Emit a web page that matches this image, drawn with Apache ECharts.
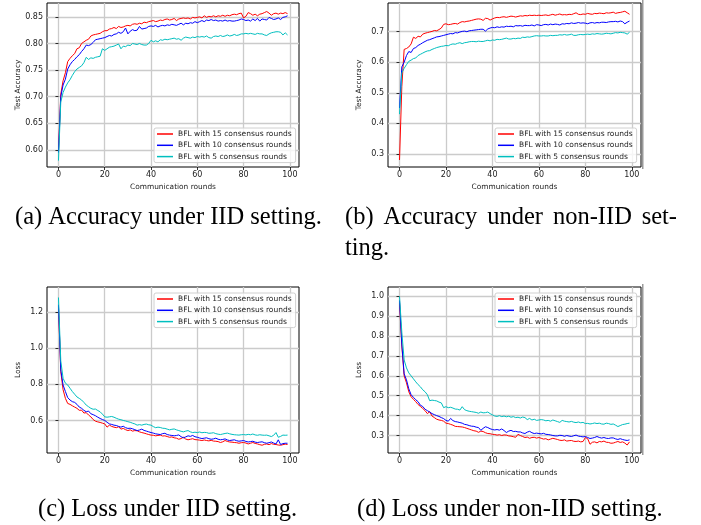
<!DOCTYPE html>
<html>
<head>
<meta charset="utf-8">
<script src="https://cdn.jsdelivr.net/npm/echarts@6/dist/echarts.min.js"></script>
<style>
  html, body { margin: 0; padding: 0; background: #fff; }
  #chart { width: 701px; height: 525px; }
</style>
</head>
<body>
<div id="chart"></div>
<script>
// communication rounds 0..99 (x positions)
const rounds = Array.from({length: 100}, (_, i) => i);
const seriesNames = ['BFL with 15 consensus rounds', 'BFL with 10 consensus rounds', 'BFL with 5 consensus rounds'];
const lineColors = ['#ff0000', '#0000ff', '#00bfbf'];

// (a) accuracy, IID
const accIid15 = [0.597,0.705,0.730,0.745,0.766,0.772,0.777,0.781,0.790,0.792,0.800,0.803,0.806,0.808,0.814,0.816,0.817,0.818,0.819,0.822,
  0.824,0.824,0.827,0.828,0.830,0.828,0.832,0.830,0.831,0.833,0.834,0.833,0.836,0.837,0.836,0.838,0.837,0.840,0.839,0.841,
  0.842,0.843,0.841,0.842,0.844,0.843,0.845,0.846,0.844,0.845,0.847,0.843,0.846,0.847,0.848,0.847,0.848,0.846,0.849,0.848,
  0.849,0.850,0.848,0.852,0.849,0.851,0.850,0.852,0.850,0.852,0.851,0.853,0.851,0.853,0.852,0.854,0.855,0.854,0.856,0.857,
  0.848,0.851,0.858,0.856,0.853,0.855,0.852,0.855,0.856,0.858,0.860,0.857,0.853,0.856,0.857,0.855,0.857,0.856,0.858,0.856];
const accIid10 = [0.595,0.700,0.722,0.733,0.752,0.760,0.766,0.770,0.775,0.779,0.785,0.790,0.797,0.796,0.798,0.802,0.807,0.808,0.809,0.810,
  0.811,0.813,0.815,0.814,0.817,0.818,0.821,0.819,0.822,0.829,0.818,0.823,0.826,0.824,0.825,0.832,0.827,0.828,0.829,0.832,
  0.833,0.832,0.834,0.831,0.833,0.834,0.833,0.835,0.834,0.836,0.835,0.834,0.836,0.838,0.835,0.838,0.837,0.839,0.838,0.841,
  0.839,0.841,0.843,0.841,0.844,0.843,0.845,0.843,0.844,0.842,0.843,0.842,0.844,0.842,0.843,0.842,0.842,0.843,0.844,0.846,
  0.845,0.843,0.844,0.842,0.846,0.843,0.847,0.842,0.846,0.845,0.844,0.849,0.847,0.845,0.846,0.848,0.845,0.849,0.850,0.852];
const accIid5 = [0.580,0.690,0.708,0.718,0.726,0.732,0.740,0.747,0.752,0.755,0.758,0.764,0.774,0.770,0.773,0.772,0.774,0.775,0.776,0.790,
  0.787,0.790,0.793,0.794,0.795,0.797,0.799,0.790,0.795,0.794,0.797,0.796,0.800,0.799,0.798,0.800,0.798,0.797,0.797,0.800,
  0.806,0.803,0.805,0.803,0.807,0.806,0.808,0.807,0.808,0.809,0.810,0.808,0.809,0.806,0.810,0.812,0.811,0.810,0.812,0.811,
  0.813,0.812,0.813,0.812,0.814,0.811,0.810,0.813,0.814,0.813,0.815,0.813,0.814,0.816,0.814,0.815,0.817,0.815,0.816,0.818,
  0.818,0.819,0.818,0.819,0.818,0.817,0.819,0.818,0.818,0.816,0.815,0.818,0.820,0.821,0.822,0.822,0.821,0.816,0.820,0.816];

// (b) accuracy, non-IID
const accNon15 = [0.280,0.520,0.642,0.645,0.650,0.660,0.682,0.678,0.685,0.683,0.692,0.695,0.697,0.699,0.701,0.704,0.703,0.707,0.712,0.724,
  0.726,0.723,0.724,0.726,0.727,0.725,0.730,0.733,0.732,0.734,0.735,0.737,0.739,0.741,0.742,0.741,0.737,0.744,0.743,0.738,
  0.742,0.745,0.747,0.746,0.748,0.749,0.747,0.749,0.751,0.750,0.748,0.750,0.752,0.751,0.753,0.752,0.754,0.753,0.754,0.753,
  0.754,0.753,0.754,0.755,0.753,0.755,0.757,0.754,0.756,0.758,0.755,0.756,0.755,0.757,0.756,0.759,0.762,0.757,0.756,0.758,
  0.757,0.760,0.758,0.757,0.760,0.759,0.761,0.760,0.759,0.762,0.761,0.762,0.764,0.760,0.762,0.763,0.765,0.767,0.762,0.757];
const accNon10 = [0.450,0.585,0.600,0.622,0.635,0.632,0.645,0.648,0.655,0.659,0.664,0.668,0.672,0.674,0.677,0.680,0.683,0.684,0.686,0.688,
  0.690,0.692,0.694,0.693,0.697,0.696,0.699,0.701,0.702,0.700,0.703,0.704,0.705,0.706,0.707,0.708,0.708,0.702,0.709,0.712,
  0.714,0.713,0.716,0.714,0.716,0.715,0.718,0.717,0.718,0.716,0.720,0.719,0.720,0.718,0.721,0.720,0.720,0.722,0.719,0.723,
  0.722,0.720,0.723,0.724,0.722,0.725,0.723,0.725,0.724,0.722,0.726,0.725,0.727,0.726,0.729,0.727,0.728,0.730,0.728,0.729,
  0.728,0.726,0.729,0.730,0.728,0.730,0.729,0.731,0.731,0.730,0.732,0.733,0.733,0.734,0.732,0.735,0.733,0.726,0.731,0.735];
const accNon5 = [0.430,0.565,0.580,0.592,0.603,0.607,0.612,0.614,0.622,0.626,0.630,0.634,0.637,0.638,0.642,0.645,0.648,0.650,0.652,0.653,
  0.655,0.654,0.658,0.660,0.659,0.662,0.664,0.661,0.664,0.665,0.667,0.668,0.668,0.667,0.669,0.668,0.668,0.670,0.672,0.670,
  0.673,0.672,0.675,0.674,0.675,0.677,0.679,0.676,0.676,0.678,0.677,0.679,0.678,0.682,0.681,0.683,0.682,0.684,0.686,0.687,
  0.686,0.686,0.687,0.686,0.686,0.688,0.687,0.688,0.688,0.690,0.689,0.691,0.689,0.690,0.692,0.688,0.688,0.690,0.691,0.690,
  0.691,0.692,0.691,0.693,0.692,0.694,0.693,0.692,0.693,0.695,0.694,0.693,0.695,0.697,0.696,0.698,0.697,0.696,0.692,0.698];

// (c) loss, IID
const lossIid15 = [1.230,0.870,0.770,0.722,0.694,0.689,0.681,0.674,0.667,0.656,0.657,0.641,0.643,0.630,0.620,0.605,0.596,0.592,0.589,0.585,
  0.581,0.563,0.574,0.567,0.563,0.560,0.565,0.552,0.556,0.549,0.544,0.548,0.541,0.544,0.543,0.537,0.533,0.530,0.526,0.522,
  0.519,0.518,0.515,0.517,0.519,0.514,0.515,0.511,0.507,0.509,0.504,0.502,0.496,0.500,0.507,0.497,0.493,0.496,0.499,0.494,
  0.493,0.491,0.489,0.492,0.489,0.487,0.490,0.486,0.485,0.483,0.478,0.482,0.489,0.484,0.481,0.480,0.478,0.477,0.474,0.477,
  0.478,0.475,0.470,0.474,0.478,0.473,0.470,0.466,0.463,0.468,0.470,0.466,0.472,0.468,0.467,0.464,0.463,0.466,0.469,0.467];
const lossIid10 = [1.240,0.880,0.796,0.760,0.726,0.713,0.704,0.700,0.689,0.674,0.667,0.656,0.648,0.652,0.637,0.632,0.626,0.618,0.611,0.605,
  0.600,0.590,0.581,0.578,0.574,0.572,0.567,0.563,0.568,0.560,0.556,0.557,0.554,0.549,0.544,0.547,0.552,0.545,0.541,0.537,
  0.533,0.530,0.526,0.524,0.522,0.527,0.529,0.522,0.519,0.517,0.515,0.517,0.520,0.510,0.504,0.509,0.515,0.512,0.517,0.510,
  0.507,0.503,0.500,0.502,0.504,0.499,0.496,0.498,0.502,0.496,0.493,0.495,0.498,0.492,0.489,0.491,0.493,0.488,0.485,0.487,
  0.489,0.484,0.481,0.483,0.485,0.480,0.478,0.480,0.482,0.477,0.474,0.477,0.481,0.475,0.470,0.493,0.467,0.472,0.474,0.474];
const lossIid5 = [1.280,0.930,0.833,0.806,0.796,0.778,0.760,0.745,0.730,0.722,0.713,0.700,0.685,0.676,0.667,0.662,0.663,0.655,0.648,0.635,
  0.620,0.618,0.620,0.622,0.618,0.612,0.607,0.604,0.600,0.597,0.593,0.590,0.585,0.581,0.574,0.577,0.574,0.578,0.580,0.576,
  0.574,0.566,0.560,0.563,0.561,0.557,0.556,0.552,0.548,0.551,0.553,0.548,0.544,0.540,0.537,0.541,0.544,0.537,0.533,0.535,
  0.533,0.536,0.532,0.534,0.533,0.529,0.530,0.532,0.527,0.524,0.522,0.525,0.528,0.530,0.526,0.523,0.521,0.520,0.519,0.521,
  0.522,0.520,0.523,0.521,0.525,0.520,0.518,0.521,0.519,0.518,0.519,0.515,0.511,0.518,0.533,0.507,0.512,0.519,0.518,0.519];

// (d) loss, non-IID
const lossNon15 = [0.970,0.750,0.600,0.565,0.520,0.495,0.482,0.470,0.456,0.446,0.436,0.425,0.410,0.420,0.398,0.390,0.382,0.378,0.376,0.372,
  0.362,0.360,0.356,0.352,0.346,0.345,0.344,0.343,0.340,0.336,0.332,0.328,0.324,0.322,0.316,0.322,0.320,0.314,0.310,0.309,
  0.306,0.305,0.302,0.304,0.300,0.303,0.302,0.298,0.297,0.294,0.291,0.306,0.300,0.295,0.290,0.292,0.286,0.290,0.291,0.287,
  0.290,0.286,0.282,0.284,0.278,0.282,0.286,0.283,0.280,0.276,0.275,0.278,0.272,0.274,0.275,0.271,0.270,0.272,0.268,0.270,
  0.290,0.284,0.256,0.266,0.268,0.263,0.270,0.268,0.272,0.266,0.265,0.261,0.262,0.266,0.270,0.265,0.268,0.262,0.252,0.268];
const lossNon10 = [0.980,0.760,0.610,0.580,0.535,0.505,0.492,0.480,0.470,0.452,0.446,0.432,0.425,0.418,0.410,0.405,0.400,0.396,0.390,0.385,
  0.376,0.372,0.386,0.375,0.370,0.368,0.365,0.362,0.356,0.354,0.350,0.347,0.346,0.342,0.340,0.326,0.336,0.344,0.340,0.334,
  0.330,0.328,0.330,0.327,0.333,0.325,0.315,0.322,0.326,0.320,0.321,0.318,0.318,0.313,0.310,0.317,0.321,0.314,0.310,0.312,
  0.310,0.308,0.311,0.306,0.305,0.303,0.300,0.298,0.298,0.301,0.300,0.296,0.300,0.297,0.295,0.299,0.302,0.297,0.295,0.293,
  0.295,0.290,0.285,0.287,0.290,0.295,0.290,0.287,0.290,0.286,0.285,0.288,0.288,0.283,0.280,0.284,0.280,0.277,0.275,0.278];
const lossNon5 = [1.000,0.820,0.680,0.640,0.615,0.600,0.585,0.570,0.556,0.545,0.530,0.520,0.505,0.475,0.478,0.476,0.474,0.468,0.464,0.440,
  0.445,0.440,0.442,0.438,0.433,0.432,0.428,0.445,0.430,0.425,0.422,0.420,0.418,0.416,0.412,0.418,0.414,0.415,0.418,0.410,
  0.404,0.398,0.396,0.400,0.395,0.398,0.394,0.397,0.392,0.395,0.390,0.392,0.388,0.393,0.390,0.380,0.386,0.378,0.382,0.376,
  0.378,0.380,0.378,0.374,0.376,0.372,0.378,0.374,0.370,0.366,0.376,0.372,0.370,0.368,0.371,0.367,0.365,0.368,0.364,0.366,
  0.360,0.361,0.358,0.360,0.363,0.360,0.362,0.358,0.357,0.362,0.360,0.356,0.358,0.352,0.345,0.350,0.355,0.357,0.360,0.362];

// tick labels
const xTicks = [0, 20, 40, 60, 80, 100];
const yTicksA = [0.60, 0.65, 0.70, 0.75, 0.80, 0.85];
const yTicksB = [0.3, 0.4, 0.5, 0.6, 0.7];
const yTicksC = [0.6, 0.8, 1.0, 1.2];
const yTicksD = [0.3, 0.4, 0.5, 0.6, 0.7, 0.8, 0.9, 1.0];

const panels = [
  {grid: {left: 47, top: 3, width: 252, height: 164}, yMin: 0.568, yMax: 0.876, ticks: yTicksA, dec: 2, yName: 'Test Accuracy',
   data: [accIid15, accIid10, accIid5], legend: {left: 154, top: 128}},
  {grid: {left: 388, top: 3, width: 253, height: 164}, yMin: 0.257, yMax: 0.794, ticks: yTicksB, dec: 1, yName: 'Test Accuracy',
   data: [accNon15, accNon10, accNon5], legend: {left: 495, top: 128}},
  {grid: {left: 47, top: 287, width: 252, height: 166}, yMin: 0.42, yMax: 1.338, ticks: yTicksC, dec: 1, yName: 'Loss',
   data: [lossIid15, lossIid10, lossIid5], legend: {left: 154, top: 293}},
  {grid: {left: 388, top: 287, width: 253, height: 166}, yMin: 0.212, yMax: 1.047, ticks: yTicksD, dec: 1, yName: 'Loss',
   data: [lossNon15, lossNon10, lossNon5], legend: {left: 495, top: 293}}
];

const tickFont = 'DejaVu Sans';
const gridLine = {show: true, lineStyle: {color: '#cbcbcb', width: 1.3}};

const grids = [], xAxes = [], yAxes = [], series = [], legends = [];
panels.forEach((p, k) => {
  grids.push(Object.assign({show: true, borderColor: '#000', borderWidth: 1, backgroundColor: 'transparent'}, p.grid));
  xAxes.push({
    type: 'value', gridIndex: k, min: -4.95, max: 103.95,
    name: 'Communication rounds', nameLocation: 'middle', nameGap: 17,
    nameTextStyle: {fontFamily: tickFont, fontSize: 7.4, color: '#222'},
    axisLine: {show: false},
    axisTick: {show: true, inside: false, length: 3, customValues: xTicks, lineStyle: {color: '#000', width: 0.8}},
    axisLabel: {customValues: xTicks, fontFamily: tickFont, fontSize: 8, color: '#222', margin: 4},
    splitLine: gridLine
  });
  yAxes.push({
    type: 'value', gridIndex: k, min: p.yMin, max: p.yMax,
    name: p.yName, nameLocation: 'middle', nameGap: 25, nameRotate: 90,
    nameTextStyle: {fontFamily: tickFont, fontSize: 7.4, color: '#222'},
    axisLine: {show: false},
    axisTick: {show: true, inside: false, length: 3, customValues: p.ticks, lineStyle: {color: '#000', width: 0.8}},
    axisLabel: {customValues: p.ticks, fontFamily: tickFont, fontSize: 8, color: '#222', margin: 4,
      formatter: v => v.toFixed(p.dec)},
    splitLine: gridLine
  });
  p.data.forEach((vals, s) => {
    series.push({
      name: seriesNames[s], type: 'line', xAxisIndex: k, yAxisIndex: k,
      data: vals.map((v, i) => [rounds[i], v]),
      showSymbol: false, symbol: 'none',
      lineStyle: {color: lineColors[s], width: 1},
      itemStyle: {color: lineColors[s]},
      z: 2 + s
    });
  });
  legends.push({
    left: p.legend.left, top: p.legend.top, orient: 'vertical',
    data: seriesNames, icon: 'rect', itemWidth: 16, itemHeight: 1.5, itemGap: 2.3,
    padding: [1.5, 4, 1.5, 3],
    backgroundColor: 'rgba(255,255,255,0.8)', borderColor: '#d0d0d0', borderWidth: 1, borderRadius: 2,
    textStyle: {fontFamily: tickFont, fontSize: 7.5, color: '#222', lineHeight: 9, padding: [0, 0, 0, 0]},
    selectedMode: false
  });
});

const capFont = 'Liberation Serif';
const capStyle = {fontFamily: capFont, fontSize: 24.5, fill: '#000'};
const captionWords = [
  {text: '(a) Accuracy under IID setting.', x: 15, y: 218},
  {text: '(b)', x: 345, y: 218},
  {text: 'Accuracy', x: 383.5, y: 218},
  {text: 'under', x: 487.2, y: 218},
  {text: 'non-IID', x: 552.9, y: 218},
  {text: 'set-', x: 677, y: 218, align: 'right'},
  {text: 'ting.', x: 345, y: 249},
  {text: '(c) Loss under IID setting.', x: 38, y: 510},
  {text: '(d) Loss under non-IID setting.', x: 357, y: 510}
];

const graphics = captionWords.map(c => ({
  type: 'text', x: c.x, y: c.y,
  style: Object.assign({text: c.text, textAlign: c.align || 'left', textVerticalAlign: 'middle'}, capStyle)
}));
// faint grey edge right of the right-hand panels
graphics.push({type: 'rect', shape: {x: 642, y: 0, width: 1.5, height: 169}, style: {fill: '#9a9a9a'}});
graphics.push({type: 'rect', shape: {x: 642, y: 284, width: 1.5, height: 171}, style: {fill: '#9a9a9a'}});

const chart = echarts.init(document.getElementById('chart'), null, {renderer: 'canvas'});
chart.setOption({
  animation: false,
  backgroundColor: '#fff',
  grid: grids,
  xAxis: xAxes,
  yAxis: yAxes,
  legend: legends,
  series: series,
  graphic: graphics
});
</script>
</body>
</html>
